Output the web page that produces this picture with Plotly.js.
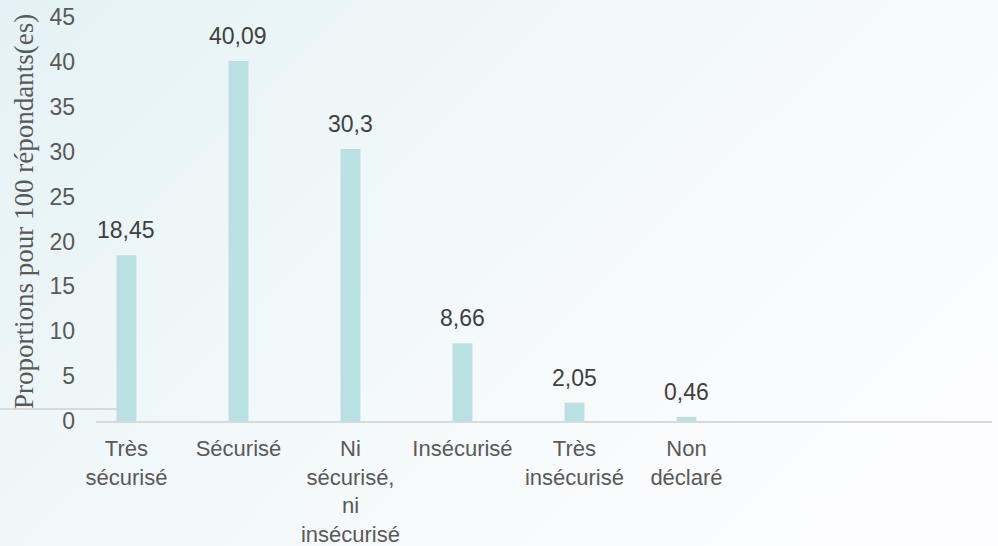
<!DOCTYPE html>
<html>
<head>
<meta charset="utf-8">
<script src="https://cdn.plot.ly/plotly-3.0.1.min.js"></script>
<style>
html,body{margin:0;padding:0;}
body{width:998px;height:546px;background:linear-gradient(135deg,#e4f2f5 0%,#f1f8f9 40%,#fafbfd 75%,#fdfdff 100%);}
#chart{width:998px;height:546px;}
</style>
</head>
<body>
<div id="chart"></div>
<script>
const categories = ["Très<br>sécurisé", "Sécurisé", "Ni<br>sécurisé,<br>ni<br>insécurisé", "Insécurisé", "Très<br>insécurisé", "Non<br>déclaré"];
const values = [18.45, 40.09, 30.3, 8.66, 2.05, 0.46];
const valueLabels = ["18,45", "40,09", "30,3", "8,66", "2,05", "0,46"];
const yTicks = [0, 5, 10, 15, 20, 25, 30, 35, 40, 45];
const yTitle = "Proportions pour 100 répondants(es)";

const sans = "Arial, 'Liberation Sans', sans-serif";

const trace = {
  type: "bar",
  x: categories,
  y: values,
  width: 0.178,
  marker: {color: "#b9e0e3"},
  hoverinfo: "skip"
};

const annotations = categories.map((c, i) => ({
  x: c, y: values[i], xref: "x", yref: "y",
  text: valueLabels[i], showarrow: false,
  yanchor: "bottom", yshift: 10,
  font: {family: sans, size: 23, color: "#404040"}
}));
annotations.push({
  xref: "paper", yref: "paper", x: 0, y: 0.5,
  xanchor: "right", xshift: -55, yshift: 7,
  textangle: -90, showarrow: false, text: yTitle,
  font: {family: "'Times New Roman', 'Liberation Serif', serif", size: 27, color: "#595959"}
});

const layout = {
  width: 998, height: 546,
  margin: {l: 96, r: 6, t: 17, b: 125, pad: 0},
  paper_bgcolor: "rgba(0,0,0,0)",
  plot_bgcolor: "rgba(0,0,0,0)",
  showlegend: false,
  xaxis: {
    type: "category",
    range: [-0.272, 7.728],
    showgrid: false, zeroline: false,
    showline: true, linecolor: "#d9d9d9", linewidth: 1.5,
    ticks: "", ticklabelstandoff: 7,
    tickfont: {family: sans, size: 22, color: "#595959"}
  },
  yaxis: {
    range: [0, 45],
    tickvals: yTicks,
    showgrid: false, zeroline: false, showline: false,
    ticks: "", ticklabelstandoff: 20,
    tickfont: {family: sans, size: 23, color: "#595959"}
  },
  shapes: [{
    type: "line", layer: "below",
    xref: "paper", yref: "y",
    x0: -96/896, x1: 21/896, y0: 1.34, y1: 1.34,
    line: {color: "#d0d0d0", width: 1.5}
  }],
  annotations: annotations
};

Plotly.newPlot("chart", [trace], layout, {displayModeBar: false, staticPlot: true});
</script>
</body>
</html>
